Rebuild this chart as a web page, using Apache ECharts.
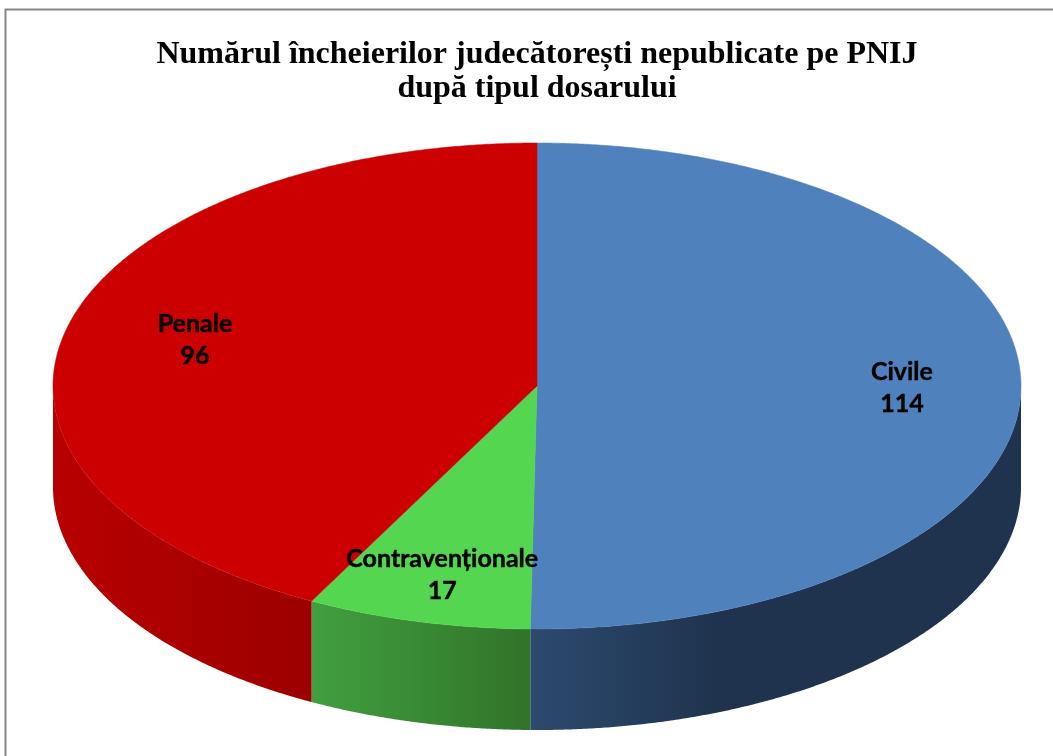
<!DOCTYPE html>
<html>
<head>
<meta charset="utf-8">
<title>PNIJ</title>
<style>
  html, body { margin: 0; padding: 0; background: #fff; }
  #chart { width: 1053px; height: 756px; }
</style>
<script src="https://cdn.jsdelivr.net/npm/echarts@6/dist/echarts.min.js"></script>
</head>
<body>
<div id="chart"></div>
<script>
const categories = ['Civile', 'Contravenționale', 'Penale']
const values = [114, 17, 96]
const topColors = ['#4f81bd', '#54d651', '#cc0000']
// culorile fetei laterale: stanga -> dreapta
const sideColors = [
  ['#2c4a6e', '#1f334e'],
  ['#41a03f', '#317329'],
  ['#b80000', '#9c0000']
]
const sideStops = [[530, 720], [311, 530], [53, 311]]
// unde cade eticheta, ca fractiune din raza
const labelRadial = [[0.754, 0.75], [0.794, 0.80], [0.728, 0.81]]

const cx = 537
const cy = 386
const rx = 484
const ry = 243
const depth = 101
const total = values.reduce((a, b) => a + b, 0)

function pt(t, dy) {
  return [cx + rx * Math.sin(t), cy - ry * Math.cos(t) + (dy || 0)]
}

function arc(from, to, dy) {
  const n = Math.max(2, Math.ceil(Math.abs(to - from) * 180))
  const pts = []
  for (let i = 0; i <= n; i++) {
    pts.push(pt(from + (to - from) * i / n, dy))
  }
  return pts
}

function startAngle(idx) {
  let sum = 0
  for (let i = 0; i < idx; i++) sum += values[i]
  return sum / total * Math.PI * 2
}

function renderSlice(params, api) {
  const idx = params.dataIndex
  const from = startAngle(idx)
  const to = from + api.value(0) / total * Math.PI * 2
  const children = []

  // fata laterala, vizibila doar pe jumatatea de jos
  const a = Math.max(from, Math.PI / 2)
  const b = Math.min(to, Math.PI * 1.5)
  if (b > a) {
    const stops = sideStops[idx]
    children.push({
      type: 'polygon',
      shape: { points: arc(a, b, 0).concat(arc(b, a, depth)) },
      style: {
        fill: new echarts.graphic.LinearGradient(stops[0], 0, stops[1], 0, [
          { offset: 0, color: sideColors[idx][0] },
          { offset: 1, color: sideColors[idx][1] }
        ], true)
      }
    })
  }

  // fata de sus
  children.push({
    type: 'polygon',
    z2: 5,
    shape: { points: [[cx, cy]].concat(arc(from, to, 0)) },
    style: { fill: topColors[idx], stroke: topColors[idx], lineWidth: 0.5 }
  })

  // eticheta
  const mid = (from + to) / 2
  const f = labelRadial[idx]
  children.push({
    type: 'text',
    z2: 10,
    x: cx + rx * f[0] * Math.sin(mid),
    y: cy - ry * f[1] * Math.cos(mid) + 1,
    style: {
      text: categories[idx] + '\n' + api.value(0),
      fill: '#000',
      stroke: '#000',
      lineWidth: 0.4,
      font: 'bold 25px Lato',
      lineHeight: 32,
      align: 'center',
      verticalAlign: 'middle'
    }
  })
  return { type: 'group', children }
}

const myChart = echarts.init(document.getElementById('chart'), null, { renderer: 'canvas' })

myChart.setOption({
  animation: false,
  backgroundColor: '#fff',
  title: {
    text: 'Numărul încheierilor judecătorești nepublicate pe PNIJ\ndupă tipul dosarului',
    left: 532,
    top: 33,
    textAlign: 'center',
    textStyle: {
      fontFamily: 'Liberation Serif',
      fontWeight: 'bold',
      fontSize: 32,
      lineHeight: 34,
      color: '#000'
    }
  },
  graphic: [
    {
      type: 'rect',
      silent: true,
      z: -1,
      shape: { x: 5.5, y: 9.5, width: 1060, height: 760 },
      style: { fill: 'none', stroke: '#868686', lineWidth: 2 }
    }
  ],
  series: [
    {
      type: 'custom',
      coordinateSystem: 'none',
      renderItem: renderSlice,
      data: values.map((v) => [v])
    }
  ]
})
</script>
</body>
</html>
